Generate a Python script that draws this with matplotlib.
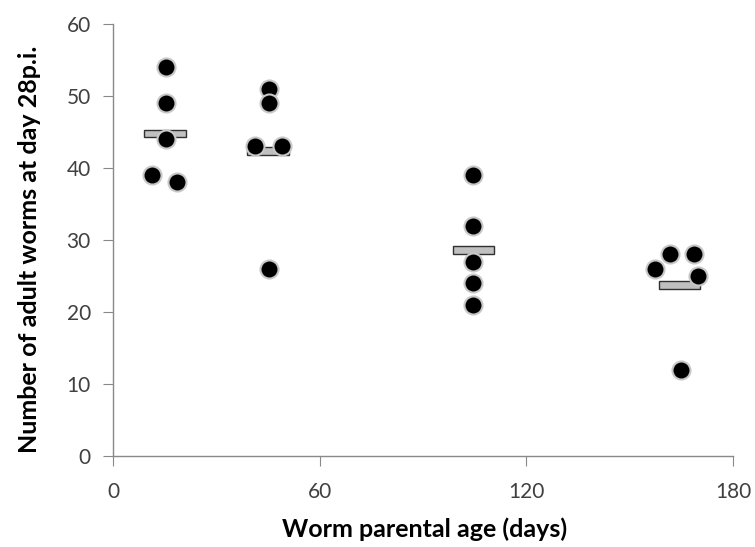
import numpy as np
import matplotlib.pyplot as plt

plt.rcParams['font.family'] = ['Lato', 'DejaVu Sans']

# worm counts per group, x = parental age (days, jittered as in figure)
x_g1 = [15.4, 15.4, 15.4, 11.3, 18.6]
y_g1 = [54, 49, 44, 39, 38]
x_g2 = [45.3, 45.3, 41.1, 49.1, 45.3]
y_g2 = [51, 49, 43, 43, 26]
x_g3 = [104.6, 104.6, 104.6, 104.6, 104.6]
y_g3 = [39, 32, 27, 24, 21]
x_g4 = [157.4, 161.7, 168.7, 169.9, 164.8]
y_g4 = [26, 28, 28, 25, 12]

# group means (bars)
mean_x = [15.1, 45.0, 104.7, 164.5]
mean_y = [44.8, 42.4, 28.6, 23.8]

fig = plt.figure(figsize=(7.55, 5.47), dpi=100)
ax = fig.add_axes([0.1497, 0.1664, 0.8212, 0.7896])

bar_h = 1.1
ax.bar(mean_x, [bar_h] * len(mean_y), bottom=np.array(mean_y) - bar_h / 2,
       width=12, color='#c0c0c0', edgecolor='#303030', linewidth=1.0, zorder=2)

for xs, ys in [(x_g1, y_g1), (x_g2, y_g2), (x_g3, y_g3), (x_g4, y_g4)]:
    ax.plot(xs, ys, 'o', color='black', markersize=13,
            markeredgecolor='#c8c8c8', markeredgewidth=1.5, zorder=3,
            clip_on=False)

ax.set_xlim(0, 180)
ax.set_ylim(0, 60)
ax.set_xticks([0, 60, 120, 180])
ax.set_yticks(range(0, 61, 10))

for s in ['top', 'right']:
    ax.spines[s].set_visible(False)
for s in ['left', 'bottom']:
    ax.spines[s].set_color('#898989')
    ax.spines[s].set_linewidth(1.0)

ax.tick_params(axis='y', direction='out', length=7, color='#898989',
               labelsize=15, labelcolor='#404040', pad=9)
ax.tick_params(axis='x', direction='out', length=7, color='#898989',
               labelsize=15, labelcolor='#404040', pad=12)

fig.text(425 / 755, 1 - 537 / 547, 'Worm parental age (days)', fontsize=18,
         fontweight='bold', ha='center', va='baseline')
fig.text(30 / 755, 1 - 249 / 547, 'Number of adult worms at day 28p.i.',
         fontsize=18, fontweight='bold', ha='center', va='center', rotation=90)

fig.savefig('out.png', dpi=100)
